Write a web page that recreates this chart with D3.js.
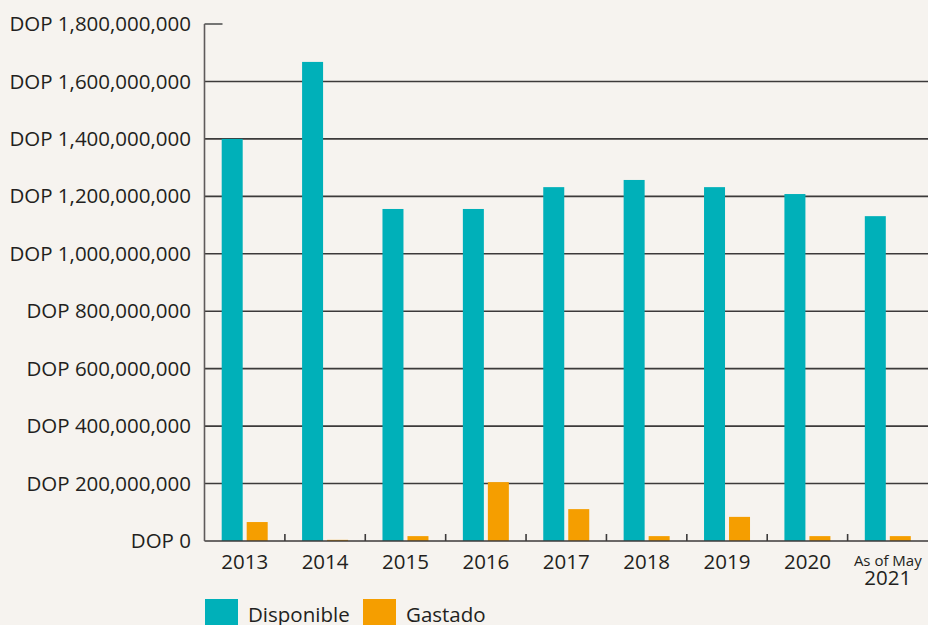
<!DOCTYPE html>
<html lang="en">
<head>
    <meta charset="UTF-8">
    <title>Disponible vs Gastado</title>
    <script src="https://cdn.jsdelivr.net/npm/d3@7"></script>
    <style>
        body {
            margin: 0;
            padding: 0;
            background-color: #f6f3ef;
            font-family: "Open Sans", "Noto Sans", sans-serif;
        }
        svg {
            display: block;
        }
        .ylab {
            font-size: 20.5px;
            fill: #231f20;
        }
        .xlab {
            font-size: 20.5px;
            fill: #231f20;
        }
    </style>
</head>
<body>
    <svg></svg>

    <script>
        const width = 928;
        const height = 625;

        const categories = ["2013", "2014", "2015", "2016", "2017", "2018", "2019", "2020", "2021"];
        const disponible = [1400000000, 1668000000, 1156000000, 1156000000, 1232000000, 1257000000, 1232000000, 1208000000, 1131000000];
        const gastado = [66000000, 4000000, 17000000, 205000000, 111000000, 17000000, 84000000, 17000000, 17000000];
        const seriesNames = ["Disponible", "Gastado"];
        const seriesColors = ["#00b0b9", "#f59e00"];
        const yTicks = [0, 200000000, 400000000, 600000000, 800000000, 1000000000, 1200000000, 1400000000, 1600000000, 1800000000];

        const plot = { left: 204.5, right: 928, top: 24, bottom: 541 };

        const svg = d3.select("svg")
            .attr("width", width)
            .attr("height", height);

        const x = d3.scaleBand()
            .domain(categories)
            .range([plot.left, plot.right]);

        const xInner = d3.scaleBand()
            .domain(seriesNames)
            .range([0, x.bandwidth()])
            .paddingInner(0.16)
            .paddingOuter(0.688);

        const y = d3.scaleLinear()
            .domain([0, 1800000000])
            .range([plot.bottom, plot.top]);

        // gridlines (top one is only a short stub)
        svg.append("g")
            .selectAll("line")
            .data(yTicks.filter(d => d > 0))
            .join("line")
            .attr("x1", plot.left)
            .attr("x2", d => d === 1800000000 ? plot.left + 18 : plot.right)
            .attr("y1", d => y(d))
            .attr("y2", d => y(d))
            .attr("stroke", d => d === 1800000000 ? "#555" : "#3c3a3a")
            .attr("stroke-width", 1.6);

        // bars
        const rows = categories.map((c, i) => ({ cat: c, values: [disponible[i], gastado[i]] }));

        svg.append("g")
            .selectAll("g")
            .data(rows)
            .join("g")
            .attr("transform", d => `translate(${x(d.cat)},0)`)
            .selectAll("rect")
            .data(d => d.values.map((v, j) => ({ key: seriesNames[j], value: v, color: seriesColors[j] })))
            .join("rect")
            .attr("x", d => xInner(d.key))
            .attr("width", xInner.bandwidth())
            .attr("y", d => y(d.value))
            .attr("height", d => y(0) - y(d.value))
            .attr("fill", d => d.color);

        // baseline and y axis line
        svg.append("line")
            .attr("x1", plot.left).attr("x2", plot.right)
            .attr("y1", y(0)).attr("y2", y(0))
            .attr("stroke", "#3c3a3a")
            .attr("stroke-width", 1.6);

        svg.append("line")
            .attr("x1", plot.left).attr("x2", plot.left)
            .attr("y1", plot.top).attr("y2", plot.bottom)
            .attr("stroke", "#5e5a5a")
            .attr("stroke-width", 1.6);

        // category separator ticks
        svg.append("g")
            .selectAll("line")
            .data(categories.slice(1))
            .join("line")
            .attr("x1", d => x(d))
            .attr("x2", d => x(d))
            .attr("y1", y(0) - 7)
            .attr("y2", y(0))
            .attr("stroke", "#3c3a3a")
            .attr("stroke-width", 1.6);

        // y axis labels
        const yAxis = d3.axisLeft(y)
            .tickValues(yTicks)
            .tickSize(0)
            .tickPadding(13.5)
            .tickFormat(d => "DOP " + d3.format(",")(d));

        const yg = svg.append("g")
            .attr("transform", `translate(${plot.left},0)`)
            .call(yAxis);
        yg.select(".domain").remove();
        yg.attr("font-family", null).attr("font-size", null);
        yg.selectAll("text").attr("class", "ylab");

        // x axis labels
        const xg = svg.append("g");
        xg.selectAll("text")
            .data(categories)
            .join("text")
            .attr("class", "xlab")
            .attr("x", d => x(d) + x.bandwidth() / 2)
            .attr("y", d => d === "2021" ? 585 : 569)
            .attr("text-anchor", "middle")
            .text(d => d);

        xg.append("text")
            .attr("x", x("2021") + x.bandwidth() / 2)
            .attr("y", 566)
            .attr("text-anchor", "middle")
            .attr("font-size", "15px")
            .attr("fill", "#231f20")
            .text("As of May");

        // legend
        const legendX = [205, 363];
        const legend = svg.append("g")
            .selectAll("g")
            .data(seriesNames)
            .join("g")
            .attr("transform", (d, i) => `translate(${legendX[i]},599)`);

        legend.append("rect")
            .attr("width", 33)
            .attr("height", 33)
            .attr("fill", (d, i) => seriesColors[i]);

        legend.append("text")
            .attr("x", 43)
            .attr("y", 23)
            .attr("font-size", "20.5px")
            .attr("fill", "#231f20")
            .text(d => d);
    </script>
</body>
</html>
